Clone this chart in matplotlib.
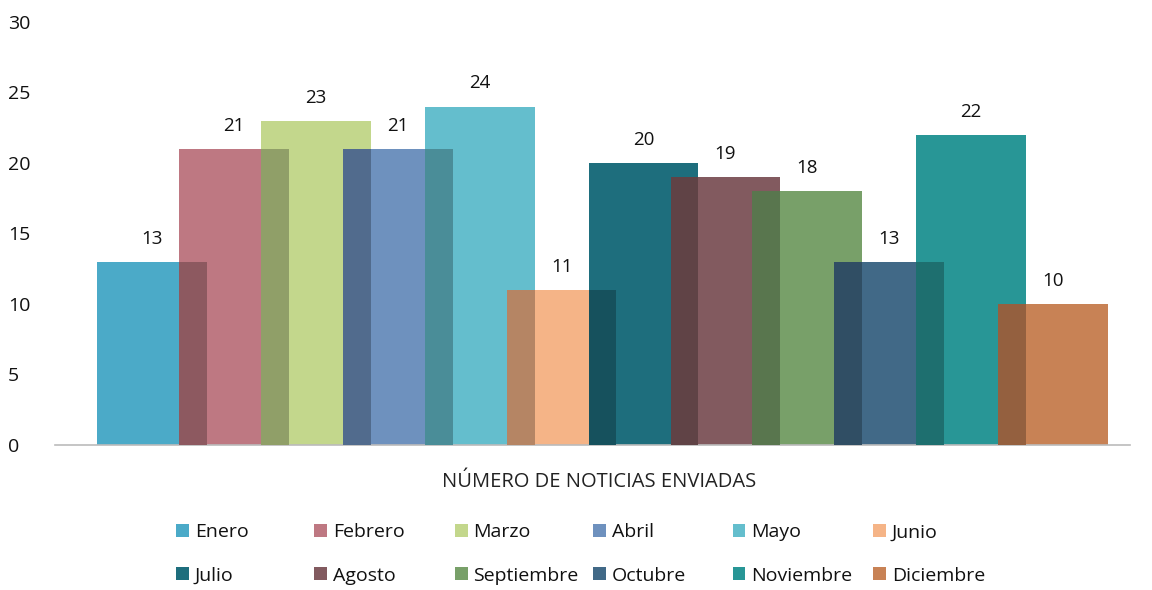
import numpy as np
import matplotlib.pyplot as plt
from matplotlib.patches import Patch
from matplotlib.colors import to_rgb

plt.rcParams['font.family'] = ['Open Sans', 'DejaVu Sans']

months = ["Enero", "Febrero", "Marzo", "Abril", "Mayo", "Junio",
          "Julio", "Agosto", "Septiembre", "Octubre", "Noviembre", "Diciembre"]
values = [13, 21, 23, 21, 24, 11, 20, 19, 18, 13, 22, 10]
colors = ["#4BAAC8", "#BE7882", "#C3D78C", "#6E91BE", "#64BECD", "#F5B487",
          "#1E6E7D", "#825A5F", "#78A069", "#416987", "#289696", "#C88255"]
yticks = [0, 5, 10, 15, 20, 25, 30]

fig = plt.figure(figsize=(11.52, 5.9), dpi=100)
ax = fig.add_axes([0.048, 0.2458, 0.933, 0.717])

width = 1.34
x = np.arange(len(values))
for i, (v, c) in enumerate(zip(values, colors)):
    ax.bar(x[i], v, width=width, color=c, linewidth=0, zorder=2)
    ax.text(x[i], v + 1.0, str(v), ha='center', va='bottom', fontsize=13.5, color='#111111')

# darker overlap band where each bar covers the previous one
for i in range(1, len(values)):
    left = x[i] - width / 2
    right = x[i - 1] + width / 2
    h = min(values[i], values[i - 1])
    dark = tuple(0.74 * np.array(to_rgb(colors[i])))
    ax.bar((left + right) / 2, h, width=right - left, color=dark, linewidth=0, zorder=3)

ax.set_xlim(-1.18, 11.94)
ax.set_ylim(0, 30)
ax.set_yticks(yticks)
ax.set_xticks([])
for s in ['top', 'right', 'left']:
    ax.spines[s].set_visible(False)
ax.spines['bottom'].set_color('#bbbbbb')
ax.spines['bottom'].set_linewidth(1.2)
ax.tick_params(axis='y', length=0, labelsize=14, pad=34, labelcolor='#111111')
for lab in ax.get_yticklabels():
    lab.set_horizontalalignment('left')

fig.text(0.52, 0.183, "NÚMERO DE NOTICIAS ENVIADAS", ha='center', va='center',
         fontsize=14.5, color='#222222')

# legend: six equal-width columns, two rows
handles = [Patch(facecolor=c, edgecolor='none') for c in colors]
col_x = [0.153, 0.273, 0.395, 0.515, 0.636, 0.758]
for k in range(6):
    idx = [k, k + 6]
    leg = fig.legend([handles[i] for i in idx], [months[i] for i in idx],
                     loc='center left', bbox_to_anchor=(col_x[k], 0.061), frameon=False,
                     fontsize=14, handlelength=0.65, handleheight=0.65, handletextpad=0.3,
                     labelspacing=1.3, borderpad=0, borderaxespad=0)
    for t in leg.get_texts():
        t.set_color('#111111')

fig.savefig("out.png", dpi=100)
